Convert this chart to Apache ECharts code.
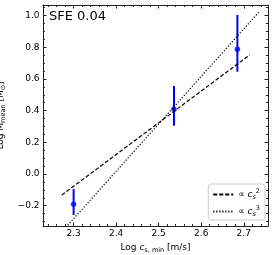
<!DOCTYPE html>
<html>
<head>
<meta charset="utf-8">
<script src="https://cdn.jsdelivr.net/npm/echarts@6/dist/echarts.min.js"></script>
<style>html,body{margin:0;padding:0;background:#fff;}#c{width:274px;height:255px;}</style>
</head>
<body>
<div id="c"></div>
<script>
// ---- data ----
const csMin     = [2.300, 2.536, 2.685];
const logMmean  = [-0.190, 0.409, 0.788];
const errLow    = [-0.259, 0.305, 0.646];
const errHigh   = [-0.095, 0.556, 1.004];
const fit2X     = [2.272, 2.714];
const fit2Y     = [-0.133, 0.752];
const fit3X     = [2.272, 2.735];
const fit3Y     = [-0.366, 1.021];
const xTicks    = [2.3, 2.4, 2.5, 2.6, 2.7];
const yTicks    = [-0.2, 0.0, 0.2, 0.4, 0.6, 0.8, 1.0];
const xRange    = [2.228, 2.757];
const yRange    = [-0.328, 1.067];

const xMinor = [], yMinor = [];
for (let v = 2.24; v < xRange[1]; v += 0.02) xMinor.push(+v.toFixed(3));
for (let v = -0.3; v < yRange[1]; v += 0.05) yMinor.push(+v.toFixed(3));

const FONT = 'DejaVu Sans';
const fmt = v => (v < 0 ? '\u2212' : '') + Math.abs(v).toFixed(1);

function mkAxis(kind, pos, ticks, len, major, range, extra) {
  return Object.assign({
    type: 'value', position: pos, min: range[0], max: range[1],
    axisLine: { show: major, onZero: false, lineStyle: { color: '#222', width: 1 } },
    axisTick: { show: true, inside: true, length: len, customValues: ticks, lineStyle: { color: '#222', width: 1 } },
    axisLabel: { show: false },
    splitLine: { show: false }
  }, extra || {});
}

const richText = {
  n: { fontFamily: FONT, fontSize: 9, color: '#000' },
  i: { fontFamily: FONT, fontSize: 9, fontStyle: 'italic', color: '#000' },
  sub: { fontFamily: FONT, fontSize: 6.5, color: '#000', verticalAlign: 'bottom', lineHeight: 13 },
  subi: { fontFamily: FONT, fontSize: 6.5, fontStyle: 'italic', color: '#000', verticalAlign: 'bottom', lineHeight: 13 },
  sup: { fontFamily: FONT, fontSize: 6.5, color: '#000', verticalAlign: 'top', lineHeight: 13 }
};

const chart = echarts.init(document.getElementById('c'), null, { renderer: 'canvas' });
chart.setOption({
  animation: false,
  backgroundColor: '#fff',
  title: {
    text: 'SFE 0.04', left: 49, top: 10, padding: 0,
    textStyle: { fontFamily: FONT, fontSize: 13, fontWeight: 'normal', color: '#000' }
  },
  grid: { left: 43, right: 6, top: 5, bottom: 29, containLabel: false, outerBoundsMode: 'none' },
  legend: {
    orient: 'vertical', right: 9, bottom: 35, padding: [4, 5, 2, 4],
    itemWidth: 20, itemHeight: 12, itemGap: 4,
    borderColor: '#ccc', borderWidth: 1, borderRadius: 3,
    backgroundColor: 'rgba(255,255,255,0.8)',
    itemStyle: { opacity: 0 },
    data: ['fit2', 'fit3'],
    formatter: n => n === 'fit2' ? '{n|\u221d }{i|c}{subi|s}{sup|2}' : '{n|\u221d }{i|c}{subi|s}{sup|3}',
    textStyle: { fontFamily: FONT, fontSize: 9, color: '#000', rich: richText }
  },
  xAxis: [
    mkAxis('x', 'bottom', xTicks, 3.5, true, xRange, {
      axisLabel: { show: true, customValues: xTicks, formatter: fmt, margin: 3, fontFamily: FONT, fontSize: 9, color: '#000' },
      name: '{n|Log }{i|c}{sub|s, min}{n| [m/s]}', nameLocation: 'middle', nameGap: 11,
      nameTextStyle: { fontFamily: FONT, fontSize: 9, color: '#000', rich: richText }
    }),
    mkAxis('x', 'bottom', xMinor, 2, false, xRange),
    mkAxis('x', 'top', xTicks, 3.5, true, xRange),
    mkAxis('x', 'top', xMinor, 2, false, xRange)
  ],
  yAxis: [
    mkAxis('y', 'left', yTicks, 3.5, true, yRange, {
      axisLabel: { show: true, customValues: yTicks, formatter: fmt, margin: 3.5, fontFamily: FONT, fontSize: 9, color: '#000' },
      name: '{n|Log M}{sub|mean}{n| [M}{sub|\u2299}{n|]}', nameLocation: 'middle', nameGap: 25, nameRotate: 90,
      nameTextStyle: { fontFamily: FONT, fontSize: 9, color: '#000', rich: richText }
    }),
    mkAxis('y', 'left', yMinor, 2, false, yRange),
    mkAxis('y', 'right', yTicks, 3.5, true, yRange),
    mkAxis('y', 'right', yMinor, 2, false, yRange)
  ],
  series: [
    {
      name: 'fit2', type: 'line', symbol: 'none', clip: true,
      data: fit2X.map((x, i) => [x, fit2Y[i]]),
      lineStyle: { color: '#000', width: 1.2, type: [4, 2] }, itemStyle: { color: '#000' }
    },
    {
      name: 'fit3', type: 'line', symbol: 'none', clip: true,
      data: fit3X.map((x, i) => [x, fit3Y[i]]),
      lineStyle: { color: '#000', width: 1.2, type: [1.2, 1.8] }, itemStyle: { color: '#000' }
    },
    {
      name: 'err', type: 'custom', clip: true,
      data: csMin.map((x, i) => [x, logMmean[i], errLow[i], errHigh[i]]),
      renderItem: (params, api) => {
        const p1 = api.coord([api.value(0), api.value(2)]);
        const p2 = api.coord([api.value(0), api.value(3)]);
        return { type: 'line', shape: { x1: p1[0], y1: p1[1], x2: p2[0], y2: p2[1] },
                 style: { stroke: '#0000ff', lineWidth: 2 } };
      }
    },
    {
      name: 'pts', type: 'scatter', symbol: 'circle', symbolSize: 5.5,
      data: csMin.map((x, i) => [x, logMmean[i]]),
      itemStyle: { color: '#0000ff' }
    }
  ]
});
</script>
</body>
</html>
